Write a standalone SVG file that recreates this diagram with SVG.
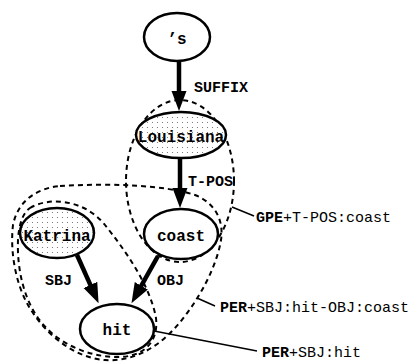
<svg xmlns="http://www.w3.org/2000/svg" width="419" height="362" viewBox="0 0 419 362">
<defs>
<pattern id="dots" width="5" height="5" patternUnits="userSpaceOnUse">
<circle cx="2.5" cy="2.5" r="0.6" fill="#666"/>
</pattern>
<marker id="ah" markerUnits="userSpaceOnUse" viewBox="0 -8 20 16" refX="1" refY="0" markerWidth="20" markerHeight="16" orient="auto">
<path d="M0,-7.5 L20,0 L0,7.5 Z" fill="#000"/>
</marker>
</defs>
<style>
.node{stroke:#000;stroke-width:2.5;fill:#fff}
.dot{fill:url(#dots)}
.nl{font-family:"Liberation Mono","Courier New",monospace;font-weight:bold;font-size:16px;text-anchor:middle;fill:#000}
.el{font-family:"Liberation Mono","Courier New",monospace;font-weight:bold;font-size:15px;fill:#000}
.rl{font-family:"Liberation Mono","Courier New",monospace;font-size:15px;fill:#000}
.b{font-weight:bold}
.edge{stroke:#000;stroke-width:4.5;fill:none;marker-end:url(#ah)}
.region{stroke:#000;stroke-width:2;stroke-dasharray:5,4;fill:none}
.lead{stroke:#000;stroke-width:1.5;fill:none}
</style>
<g id="regions">
<ellipse id="region-gpe" class="region" cx="180" cy="181" rx="54" ry="81"/>
<path id="region-per-obj" class="region" d="M60,186 C110,183 165,185 195,195 C215,203 224,220 221,240 C217,265 200,300 175,328 C155,350 130,362 105,360 C75,358 45,335 28,305 C15,282 10,250 13,225 C18,200 38,188 60,186 Z"/>
<path id="region-per" class="region" d="M30,208 C50,196 85,200 105,225 C125,250 150,285 156,318 C159,345 140,358 115,357 C85,356 55,342 38,318 C22,295 17,265 18,240 C19,222 24,212 30,208 Z"/>
</g>
<g id="nodes">
<g id="n-s">
<ellipse class="node" cx="177" cy="37" rx="33" ry="24"/>
<text class="nl" x="177" y="44">’s</text>
</g>
<g id="n-louisiana">
<ellipse class="node" cx="181" cy="135" rx="45" ry="23"/>
<ellipse class="dot" cx="181" cy="135" rx="44" ry="22"/>
<text class="nl" x="181" y="142">Louisiana</text>
</g>
<g id="n-katrina">
<ellipse class="node" cx="57" cy="233" rx="37" ry="25"/>
<ellipse class="dot" cx="57" cy="233" rx="36" ry="24"/>
<text class="nl" x="57" y="241">Katrina</text>
</g>
<g id="n-coast">
<ellipse class="node" cx="181" cy="234" rx="37" ry="25"/>
<text class="nl" x="181" y="241">coast</text>
</g>
<g id="n-hit">
<ellipse class="node" cx="117" cy="329" rx="37" ry="25"/>
<text class="nl" x="117" y="335">hit</text>
</g>
</g>
<g id="connectors">
<line class="edge" x1="179" y1="61" x2="179" y2="92"/>
<line class="edge" x1="180" y1="158" x2="180" y2="189"/>
<line class="edge" x1="77" y1="255" x2="90.8" y2="285.8"/>
<line class="edge" x1="158" y1="256" x2="140.8" y2="286.6"/>
<text class="el" x="194" y="92">SUFFIX</text>
<text class="el" x="188" y="186">T-POS</text>
<text class="el" x="45" y="285">SBJ</text>
<text class="el" x="157" y="285">OBJ</text>
<line class="lead" x1="232" y1="207" x2="254" y2="216"/>
<line class="lead" x1="197" y1="298" x2="215" y2="306"/>
<line class="lead" x1="154" y1="331" x2="257" y2="351"/>
<text class="rl" x="256" y="222"><tspan class="b">GPE</tspan>+T-POS:coast</text>
<text class="rl" x="220" y="312"><tspan class="b">PER</tspan>+SBJ:hit-OBJ:coast</text>
<text class="rl" x="262" y="357"><tspan class="b">PER</tspan>+SBJ:hit</text>
</g>
</svg>
